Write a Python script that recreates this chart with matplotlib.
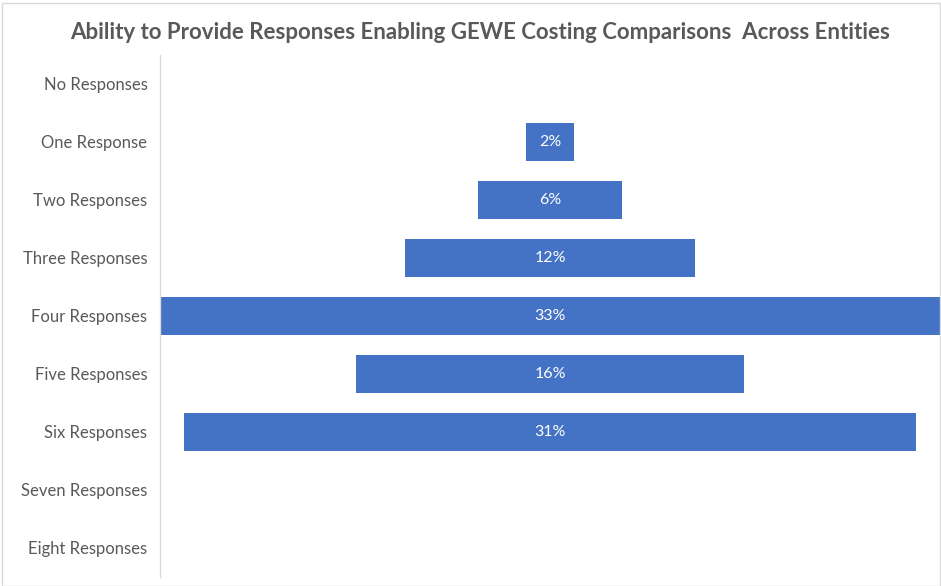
import matplotlib
matplotlib.use("Agg")
import matplotlib.pyplot as plt
from matplotlib.patches import Rectangle

categories = ["No Responses", "One Response", "Two Responses", "Three Responses",
              "Four Responses", "Five Responses", "Six Responses",
              "Seven Responses", "Eight Responses"]
values = [0.0, 0.020, 0.061, 0.123, 0.330, 0.164, 0.310, 0.0, 0.0]

plt.rcParams['font.family'] = ['Lato', 'DejaVu Sans']

fig = plt.figure(figsize=(9.41, 5.86), dpi=100)
fig.patches.append(Rectangle((0.002, 0.0), 0.997, 0.995, transform=fig.transFigure,
                             fill=False, edgecolor='#d9d9d9', linewidth=1))
ax = fig.add_axes([0.170, 0.0154, 0.829, 0.8908])

ypos = list(range(len(categories)))
lefts = [-v / 2 for v in values]
bars = ax.barh(ypos, values, left=lefts, height=0.64, color='#4472C4')
for y, v in zip(ypos, values):
    if v > 0:
        ax.text(0, y, f"{v*100:.0f}%", ha='center', va='center', color='white', fontsize=11.5)

ax.set_xlim(-0.165, 0.165)
ax.set_ylim(len(categories) - 0.5, -0.5)
ax.set_yticks(ypos)
ax.set_yticklabels(categories, fontsize=12, color='#595959')
ax.set_xticks([])
ax.tick_params(axis='y', length=0, pad=9)
for s in ['top', 'right', 'bottom']:
    ax.spines[s].set_visible(False)
ax.spines['left'].set_color('#d9d9d9')
ax.spines['left'].set_linewidth(1)

fig.text(0.510, 0.945, "Ability to Provide Responses Enabling GEWE Costing Comparisons  Across Entities",
         ha='center', va='center', fontsize=16.0, fontweight='bold', color='#595959')

fig.savefig("out.png", dpi=100)
